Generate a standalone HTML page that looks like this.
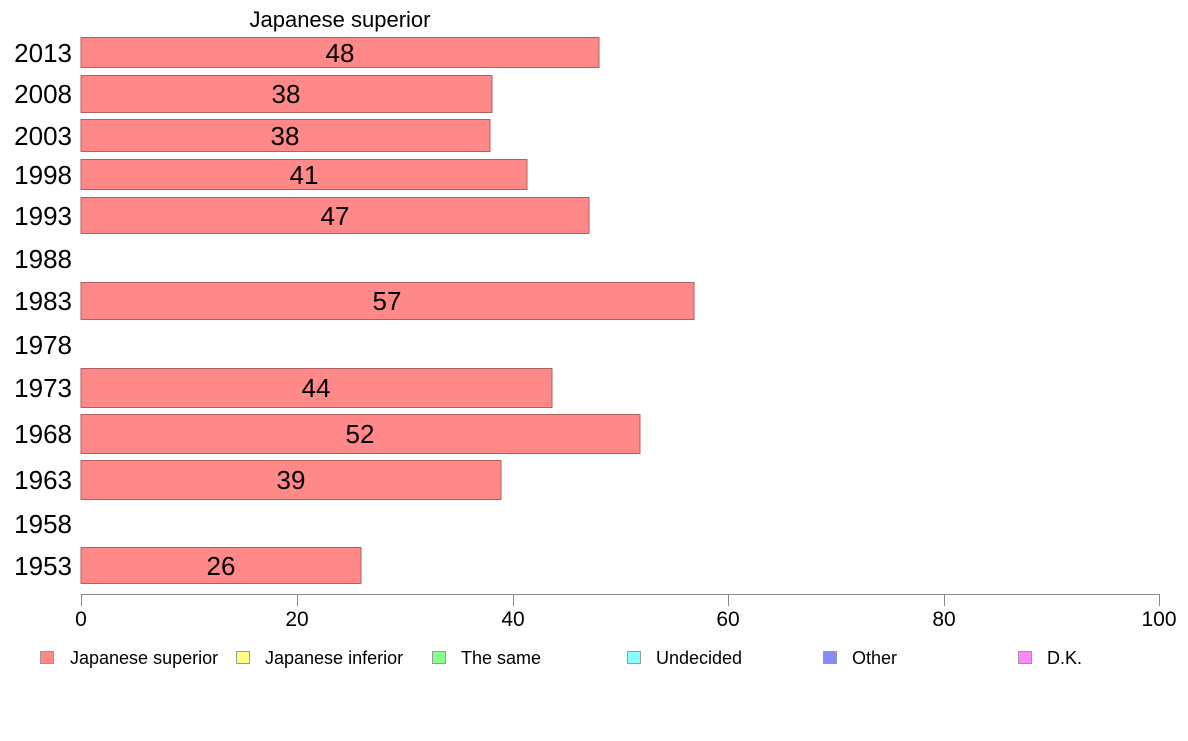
<!DOCTYPE html>
<html><head><style>body{margin:0;background:#fff}</style></head><body>
<svg width="1188" height="736" xmlns="http://www.w3.org/2000/svg" font-family="Liberation Sans, Arial, sans-serif">
<rect width="1188" height="736" fill="#fff"/>
<text x="340" y="27" font-size="22" text-anchor="middle">Japanese superior</text>
<g fill="#ff8888" stroke="#b06060" stroke-width="1">
<rect x="81" y="37.5" width="518" height="30"/>
<rect x="81" y="75.5" width="411" height="37"/>
<rect x="81" y="119.5" width="409" height="32"/>
<rect x="81" y="159.5" width="446" height="30"/>
<rect x="81" y="197.5" width="508" height="36"/>
<rect x="81" y="282.5" width="613" height="37"/>
<rect x="81" y="368.5" width="471" height="39"/>
<rect x="81" y="414.5" width="559" height="39"/>
<rect x="81" y="460.5" width="420" height="39"/>
<rect x="81" y="547.5" width="280" height="36"/>
</g>
<g font-size="26" text-anchor="middle">
<text x="340" y="62">48</text>
<text x="286" y="103">38</text>
<text x="285" y="145">38</text>
<text x="304" y="184">41</text>
<text x="335" y="225">47</text>
<text x="387" y="310">57</text>
<text x="316" y="397">44</text>
<text x="360" y="443">52</text>
<text x="291" y="489">39</text>
<text x="221" y="575">26</text>
</g>
<g font-size="26" text-anchor="end">
<text x="72" y="62">2013</text>
<text x="72" y="103">2008</text>
<text x="72" y="145">2003</text>
<text x="72" y="184">1998</text>
<text x="72" y="225">1993</text>
<text x="72" y="268">1988</text>
<text x="72" y="310">1983</text>
<text x="72" y="354">1978</text>
<text x="72" y="397">1973</text>
<text x="72" y="443">1968</text>
<text x="72" y="489">1963</text>
<text x="72" y="533">1958</text>
<text x="72" y="575">1953</text>
</g>
<g stroke="#888" stroke-width="1">
<line x1="81" y1="594.5" x2="1159" y2="594.5"/>
<line x1="81.5" y1="594" x2="81.5" y2="606"/>
<line x1="297.5" y1="594" x2="297.5" y2="606"/>
<line x1="513.5" y1="594" x2="513.5" y2="606"/>
<line x1="728.5" y1="594" x2="728.5" y2="606"/>
<line x1="944.5" y1="594" x2="944.5" y2="606"/>
<line x1="1159.5" y1="594" x2="1159.5" y2="606"/>
</g>
<g font-size="21" text-anchor="middle">
<text x="81" y="626">0</text>
<text x="297" y="626">20</text>
<text x="513" y="626">40</text>
<text x="728" y="626">60</text>
<text x="944" y="626">80</text>
<text x="1159" y="626">100</text>
</g>
<g stroke="#999" stroke-width="1">
<rect x="40.5" y="651.5" width="13" height="12" fill="#ff8888"/>
<rect x="236.5" y="651.5" width="13" height="12" fill="#ffff88"/>
<rect x="432.5" y="651.5" width="13" height="12" fill="#88ff88"/>
<rect x="627.5" y="651.5" width="13" height="12" fill="#88ffff"/>
<rect x="823.5" y="651.5" width="13" height="12" fill="#8888ff"/>
<rect x="1018.5" y="651.5" width="13" height="12" fill="#ff88ff"/>
</g>
<g font-size="18">
<text x="70" y="664">Japanese superior</text>
<text x="265" y="664">Japanese inferior</text>
<text x="461" y="664">The same</text>
<text x="656" y="664">Undecided</text>
<text x="852" y="664">Other</text>
<text x="1047" y="664">D.K.</text>
</g>
</svg>
</body></html>
